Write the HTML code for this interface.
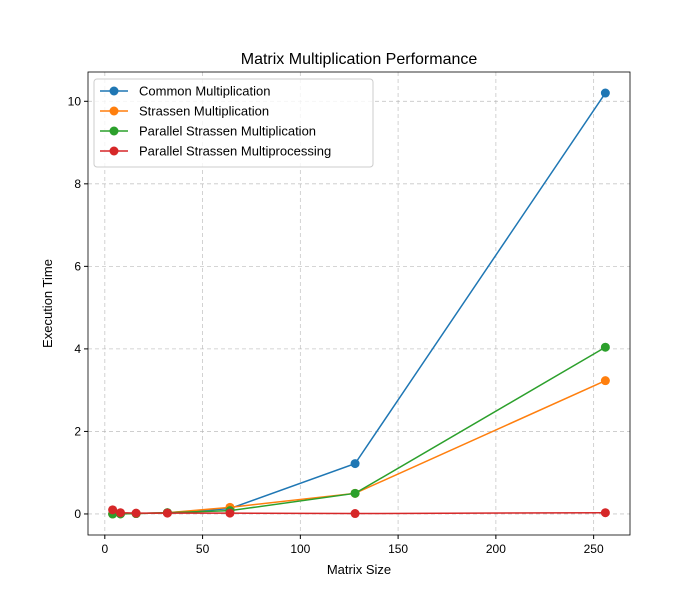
<!DOCTYPE html>
<html><head><meta charset="utf-8"><style>body{margin:0;background:#fff}svg{display:block;font-family:"Liberation Sans","DejaVu Sans",sans-serif}</style></head>
<body>
<svg id="chart" width="700" height="600"></svg>
<script>
const sizes=[4,8,16,32,64,128,256];
const common=[0.0005,0.002,0.01,0.03,0.13,1.22,10.2];
const strassen=[0.0005,0.002,0.01,0.03,0.16,0.5,3.23];
const parallel=[0.0005,0.003,0.01,0.03,0.08,0.5,4.04];
const multiproc=[0.1,0.03,0.02,0.02,0.02,0.01,0.03];
const seriesNames=["Common Multiplication","Strassen Multiplication","Parallel Strassen Multiplication","Parallel Strassen Multiprocessing"];
const xTicks=[0,50,100,150,200,250];
const yTicks=[0,2,4,6,8,10];
const colors=["#1f77b4","#ff7f0e","#2ca02c","#d62728"];
const NS="http://www.w3.org/2000/svg";
const svg=document.getElementById('chart');
const L=88,R=630,T=72,B=535;
const xmin=-8.6,xmax=268.6,ymin=-0.51,ymax=10.71;
const xs=v=>L+(v-xmin)/(xmax-xmin)*(R-L);
const ys=v=>B-(v-ymin)/(ymax-ymin)*(B-T);
function el(t,a,p){const e=document.createElementNS(NS,t);for(const k in a)e.setAttribute(k,a[k]);(p||svg).appendChild(e);return e;}
const grid=el('g',{});


xTicks.forEach(v=>{const x=xs(v);
el('line',{x1:x,x2:x,y1:T,y2:B,stroke:'#b0b0b0','stroke-dasharray':'4,3','stroke-width':0.8,opacity:0.7},grid);
el('line',{x1:x,x2:x,y1:B,y2:B+4,stroke:'#000'});
const t=el('text',{x:x,y:B+18,'text-anchor':'middle','font-size':12});t.textContent=v;

});
yTicks.forEach(v=>{const y=ys(v);
el('line',{x1:L,x2:R,y1:y,y2:y,stroke:'#b0b0b0','stroke-dasharray':'4,3','stroke-width':0.8,opacity:0.7},grid);
el('line',{x1:L-4,x2:L,y1:y,y2:y,stroke:'#000'});
const t=el('text',{x:L-7,y:y+4,'text-anchor':'end','font-size':12});t.textContent=v;

});
const all=[common,strassen,parallel,multiproc];
all.forEach((s,i)=>{const g=el('g',{});


el('polyline',{points:s.map((v,j)=>xs(sizes[j])+','+ys(v)).join(' '),fill:'none',stroke:colors[i],'stroke-width':1.5},g);
s.forEach((v,j)=>{const c=el('circle',{cx:xs(sizes[j]),cy:ys(v),r:4.5,fill:colors[i]},g);

});});
const frame=el('rect',{x:L,y:T,width:R-L,height:B-T,fill:'none',stroke:'#000','stroke-width':0.8});


const title=el('text',{x:(L+R)/2,y:64,'text-anchor':'middle','font-size':16});title.textContent='Matrix Multiplication Performance';


const xl=el('text',{x:(L+R)/2,y:574,'text-anchor':'middle','font-size':13});xl.textContent='Matrix Size';


const yl=el('text',{x:0,y:0,'text-anchor':'middle','font-size':13,transform:'translate(52,'+((T+B)/2)+') rotate(-90)'});yl.textContent='Execution Time';


const lg=el('g',{});


el('rect',{x:94,y:79,width:279,height:88,rx:3,fill:'#fff',stroke:'#ccc','fill-opacity':0.8},lg);
seriesNames.forEach((n,i)=>{const y=91+i*20;const e=el('g',{},lg);


el('line',{x1:100,x2:128,y1:y,y2:y,stroke:colors[i],'stroke-width':1.5},e);
el('circle',{cx:114,cy:y,r:4.5,fill:colors[i]},e);
const t=el('text',{x:139,y:y+4.5,'font-size':13},e);t.textContent=n;});
</script>
</body></html>
